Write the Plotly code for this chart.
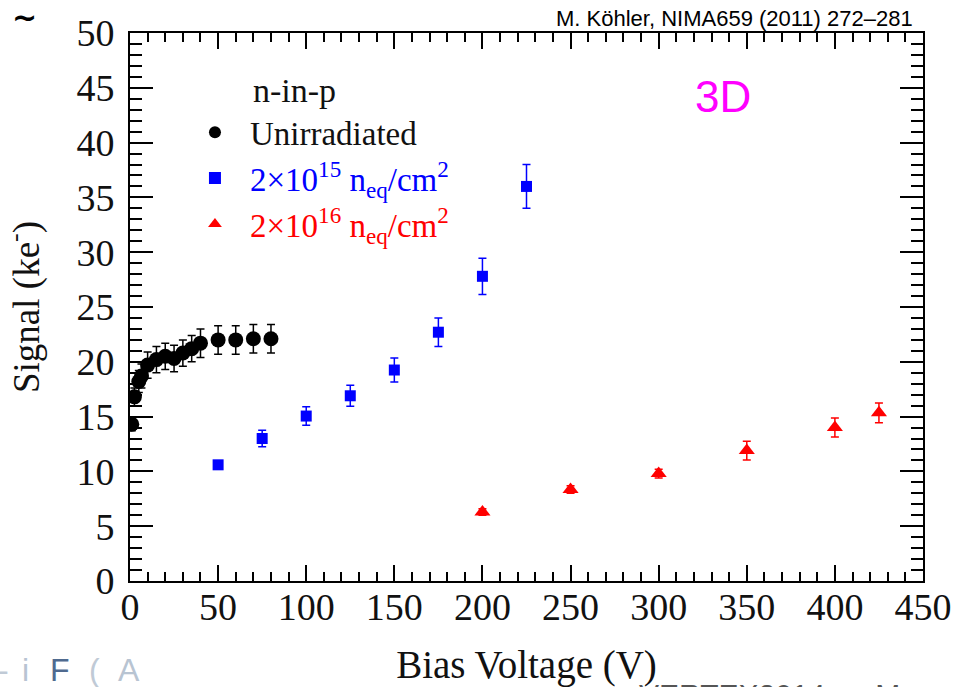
import plotly.graph_objects as go

# ---------------- data ----------------
unirr_v = [1, 2.5, 5, 6.5, 10, 15, 20, 25, 30, 35, 40, 50, 60, 70, 80]
unirr_s = [14.3, 16.8, 18.2, 18.7, 19.7, 20.2, 20.5, 20.3, 20.8, 21.2, 21.7, 22.0, 22.0, 22.1, 22.1]
unirr_e = [0.6, 0.8, 1.0, 1.1, 1.2, 1.2, 1.2, 1.2, 1.2, 1.2, 1.3, 1.3, 1.3, 1.3, 1.3]

f15_v = [50, 75, 100, 125, 150, 175, 200, 225]
f15_s = [10.6, 13.0, 15.05, 16.9, 19.25, 22.7, 27.8, 36.0]
f15_e = [0.3, 0.75, 0.85, 0.95, 1.1, 1.3, 1.65, 2.0]

f16_v = [200, 250, 300, 350, 400, 425]
f16_s = [6.3, 8.35, 9.8, 11.9, 14.0, 15.35]
f16_e = [0.3, 0.35, 0.4, 0.85, 0.87, 0.9]

x_ticks = [0, 50, 100, 150, 200, 250, 300, 350, 400, 450]
y_ticks = [0, 5, 10, 15, 20, 25, 30, 35, 40, 45, 50]

SERIF = "Liberation Serif"
SANS = "Liberation Sans"

fig = go.Figure()

fig.add_trace(go.Scatter(
    x=unirr_v, y=unirr_s, mode="markers", name="Unirradiated",
    marker=dict(symbol="circle", size=15, color="black"),
    error_y=dict(type="data", array=unirr_e, color="black", thickness=1.5, width=4),
))
fig.add_trace(go.Scatter(
    x=f15_v, y=f15_s, mode="markers",
    name='<span style="color:#0000ff">2×10<sup>15</sup> n<sub>eq</sub>/cm<sup>2</sup></span>',
    marker=dict(symbol="square", size=11, color="#0000ff"),
    error_y=dict(type="data", array=f15_e, color="#0000ff", thickness=1.5, width=4),
))
fig.add_trace(go.Scatter(
    x=f16_v, y=f16_s, mode="markers",
    name='<span style="color:#ff0000">2×10<sup>16</sup> n<sub>eq</sub>/cm<sup>2</sup></span>',
    marker=dict(symbol="triangle-up", size=14, color="#ff0000"),
    error_y=dict(type="data", array=f16_e, color="#ff0000", thickness=1.5, width=4),
))

axis_common = dict(
    showline=True, linecolor="black", linewidth=2, mirror="ticks",
    ticks="inside", tickcolor="black", tickwidth=1.5,
    showgrid=False, zeroline=False,
    tickfont=dict(family=SERIF, size=38, color="#111"),
)

fig.update_xaxes(
    range=[0, 450], tickvals=x_ticks, ticktext=[str(v) for v in x_ticks],
    ticklen=16, ticklabelstandoff=-9,
    minor=dict(dtick=10, ticks="inside", ticklen=9, tickcolor="black", tickwidth=1.5),
    title=dict(text="Bias Voltage (V)", font=dict(family=SERIF, size=39, color="#111"), standoff=29),
    **axis_common,
)
fig.update_yaxes(
    range=[0, 50], tickvals=y_ticks, ticktext=[str(v) for v in y_ticks],
    ticklen=23, ticklabelstandoff=6,
    minor=dict(dtick=1, ticks="inside", ticklen=12, tickcolor="black", tickwidth=1.5),
    title=dict(text="Signal (ke<sup>-</sup>)", font=dict(family=SERIF, size=37, color="#111"), standoff=28),
    **axis_common,
)

annotations = [
    dict(text="n-in-p", xref="paper", yref="paper", x=0.152, y=0.895, xanchor="left", yanchor="middle",
         showarrow=False, font=dict(family=SERIF, size=34, color="#111")),
    dict(text="M. Köhler, NIMA659 (2011) 272–281", xref="paper", yref="paper", x=0.99, y=1.0,
         xanchor="right", yanchor="bottom", showarrow=False, font=dict(family=SANS, size=22, color="black")),
    dict(text="3D", xref="paper", yref="paper", x=0.748, y=0.885, xanchor="center", yanchor="middle",
         showarrow=False, font=dict(family=SANS, size=44, color="#ff00ff")),
    dict(text="VERTEX2014  –  M", xref="paper", yref="paper", x=(637 - 130) / 793, y=(581 - 676) / 548,
         xanchor="left", yanchor="top", showarrow=False, font=dict(family=SANS, size=30, color="#555")),
    dict(text="<b>~</b>", xref="paper", yref="paper", x=(24 - 130) / 793, y=(581 - 18) / 548,
         xanchor="center", yanchor="middle", showarrow=False, font=dict(family="DejaVu Sans", size=30, color="black")),
]
logo = [("-", 4, "#c0cad6"), ("i", 25, "#b8c4d2"), ("F", 60, "#4f6a8f"), ("(", 94, "#c0cad6"), ("A", 129, "#b8c4d2")]
for ch, px, col in logo:
    annotations.append(dict(text=ch, xref="paper", yref="paper", x=(px - 130) / 793, y=(581 - 670) / 548,
                            xanchor="center", yanchor="middle", showarrow=False,
                            font=dict(family=SANS, size=32, color=col)))

fig.update_layout(
    width=957, height=687,
    margin=dict(l=130, r=34, t=33, b=106, autoexpand=False),
    paper_bgcolor="white", plot_bgcolor="white",
    showlegend=True,
    legend=dict(
        x=0.063, y=0.87, xanchor="left", yanchor="top",
        bgcolor="rgba(0,0,0,0)", borderwidth=0,
        font=dict(family=SERIF, size=33, color="#111"),
        itemwidth=60, itemsizing="constant",
        tracegroupgap=0,
    ),
    annotations=annotations,
)

fig.write_html("out.html")
